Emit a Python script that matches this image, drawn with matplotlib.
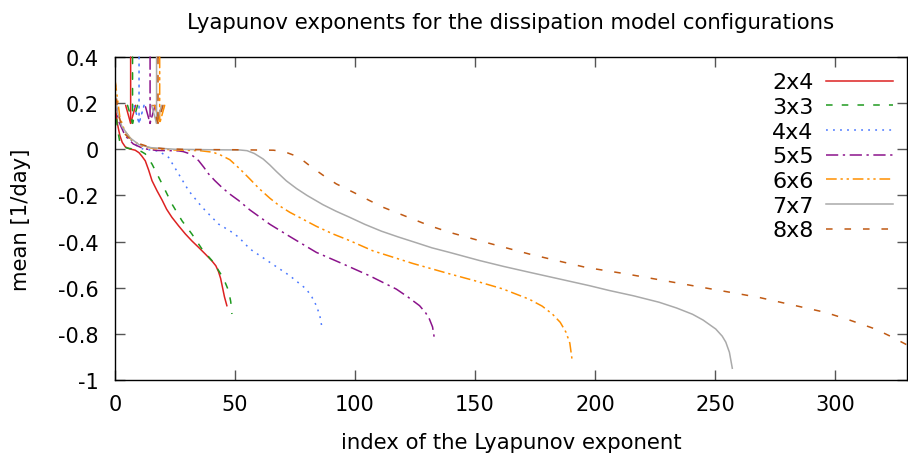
import matplotlib
matplotlib.use('Agg')
import matplotlib.pyplot as plt
from matplotlib.ticker import FormatStrFormatter

plt.rcParams['font.family'] = 'DejaVu Sans'
plt.rcParams['axes.unicode_minus'] = False

# exponents, (index, mean) per configuration
x_2x4 = [0, 1, 2, 3, 4.3, 6, 8.4, 10, 11.2, 12.6, 14, 15.4, 17.5, 19.6, 21.5, 23.7, 26.5,
         29.3, 32, 34.8, 37.5, 40.3, 42, 43.1, 44, 44.8, 45.6, 46.6]
y_2x4 = [0.19, 0.11, 0.06, 0.03, 0.01, 0.002, -0.004, -0.015, -0.03, -0.05, -0.09, -0.136,
         -0.18, -0.22, -0.26, -0.295, -0.332, -0.367, -0.397, -0.425, -0.453, -0.483,
         -0.505, -0.53, -0.56, -0.6, -0.64, -0.678]

x_3x3 = [0, 1, 2, 3, 5, 8.5, 11, 12.6, 15.4, 19.6, 23.7, 27.9, 32, 36.2, 41, 44.5, 46,
         47.3, 48.2, 48.7]
y_3x3 = [0.2, 0.09, 0.03, 0.015, 0.005, 0.0, -0.01, -0.02, -0.064, -0.15, -0.237, -0.31,
         -0.367, -0.432, -0.49, -0.548, -0.58, -0.613, -0.66, -0.714]

x_4x4 = [0, 2, 3.5, 6.2, 9, 11.8, 15, 18.2, 22.3, 26.5, 30.7, 36.2, 43.1, 47.8, 51.5, 56.2,
         64.5, 72.8, 79.7, 82, 83.9, 85.3, 86.4]
y_4x4 = [0.24, 0.13, 0.088, 0.045, 0.016, 0.0, -0.003, -0.008, -0.035, -0.107, -0.18, -0.25,
         -0.324, -0.353, -0.381, -0.432, -0.49, -0.548, -0.606, -0.64, -0.678, -0.72, -0.782]

x_5x5 = [0, 1.4, 4.2, 7.6, 11.8, 17.3, 23, 26.5, 28.4, 30.7, 32.6, 34.8, 37, 39, 41.5, 44.5,
         47.8, 51.5, 56.2, 64.5, 72.8, 83.9, 95, 106, 117.2, 122, 126.9, 129.5, 131, 132.3,
         133.1]
y_5x5 = [0.22, 0.124, 0.059, 0.023, 0.003, -0.005, -0.006, -0.007, -0.01, -0.018, -0.03,
         -0.049, -0.078, -0.107, -0.135, -0.165, -0.194, -0.222, -0.263, -0.325, -0.378,
         -0.447, -0.497, -0.548, -0.606, -0.64, -0.678, -0.71, -0.736, -0.77, -0.822]

x_6x6 = [0, 2, 4, 7, 11, 16, 25, 35.4, 40.9, 44, 47.8, 52, 56.2, 60, 64.5, 68.5, 72.8, 83.9,
         90.8, 97.8, 107.4, 124.1, 139.4, 150, 161.5, 172.6, 178, 182.3, 185.5, 187.9,
         189.5, 190.4]
y_6x6 = [0.3, 0.14, 0.08, 0.04, 0.015, 0.003, -0.003, -0.006, -0.013, -0.025, -0.045,
         -0.085, -0.129, -0.17, -0.212, -0.245, -0.273, -0.334, -0.367, -0.396, -0.44,
         -0.495, -0.54, -0.57, -0.605, -0.65, -0.68, -0.715, -0.75, -0.793, -0.84, -0.909]

x_7x7 = [0, 1, 2.8, 6.2, 10, 15, 25, 40, 52, 55, 58, 61.7, 64.5, 67.3, 71.4, 75.6, 80, 86.6,
         92, 97.8, 104, 111, 118, 125.5, 132, 139.4, 151.8, 162, 172.6, 185.1, 197.6,
         205.9, 216, 226.7, 234, 240.6, 245, 250.3, 253, 254.5, 256, 257.2]
y_7x7 = [0.25, 0.16, 0.1, 0.05, 0.02, 0.007, 0.0, -0.002, -0.003, -0.006, -0.018, -0.042,
         -0.068, -0.097, -0.137, -0.17, -0.2, -0.24, -0.268, -0.295, -0.325, -0.355, -0.38,
         -0.405, -0.427, -0.447, -0.482, -0.508, -0.533, -0.562, -0.591, -0.612, -0.635,
         -0.663, -0.688, -0.715, -0.74, -0.779, -0.81, -0.836, -0.88, -0.949]

x_8x8 = [0, 1, 3.5, 6.2, 10.4, 14.6, 20, 30, 50, 66, 69, 72, 75.6, 78.5, 81.1, 86.6, 92.2,
         100, 106, 111.6, 118.6, 131, 139.4, 151.8, 172.6, 185.1, 196.2, 212.9, 240.6,
         268.3, 296, 306, 316.8, 323, 329.3, 331]
y_8x8 = [0.3, 0.17, 0.072, 0.045, 0.023, 0.009, 0.003, -0.001, -0.002, -0.004, -0.008,
         -0.016, -0.03, -0.05, -0.071, -0.112, -0.15, -0.19, -0.222, -0.251, -0.28, -0.331,
         -0.36, -0.396, -0.454, -0.485, -0.512, -0.54, -0.591, -0.642, -0.707, -0.74,
         -0.779, -0.81, -0.844, -0.855]

labels = ['2x4', '3x3', '4x4', '5x5', '6x6', '7x7', '8x8']
# index marked by an arrow for each configuration
arrow_x = [6.5, 7.3, 10.0, 14.6, 18.6, 17.3, 17.9]
arrow_tip = 0.1

colors = ['#dd2222', '#1f9a1f', '#4a78ff', '#8b138b', '#ff9000', '#aaaaaa', '#c05a14']
dashes = [None, (4.3, 6.0), (1.2, 3.4), (8, 3, 1.5, 3), (7, 2.5, 1.5, 2.5, 1.5, 2.5),
          None, (4.3, 7.8)]

xs = [x_2x4, x_3x3, x_4x4, x_5x5, x_6x6, x_7x7, x_8x8]
ys = [y_2x4, y_3x3, y_4x4, y_5x5, y_6x6, y_7x7, y_8x8]

fig = plt.figure(figsize=(9.08, 4.56), dpi=100)
ax = fig.add_axes([0.1267, 0.1645, 0.8722, 0.7083])

for x, y, lab, c, d in zip(xs, ys, labels, colors, dashes):
    line, = ax.plot(x, y, color=c, lw=1.1, label=lab)
    if d is not None:
        line.set_dashes(d)

for ax_x, c, d in zip(arrow_x, colors, dashes):
    ls = '-' if d is None else (0, d)
    ax.annotate('', xy=(ax_x, arrow_tip), xytext=(ax_x, 0.4),
                arrowprops=dict(arrowstyle='->,head_length=1.3,head_width=0.36',
                                color=c, lw=1.1, linestyle=ls,
                                shrinkA=0, shrinkB=0, mutation_scale=10))

ax.set_xlim(0, 330)
ax.set_ylim(-1, 0.4)
ax.set_xticks([0, 50, 100, 150, 200, 250, 300])
ax.set_yticks([-1, -0.8, -0.6, -0.4, -0.2, 0, 0.2, 0.4])
ax.yaxis.set_major_formatter(FormatStrFormatter('%g'))
ax.tick_params(direction='in', length=7, width=1, color='#555555', labelsize=15,
               top=True, right=True)
ax.tick_params(axis='y', pad=12)
ax.tick_params(axis='x', pad=10)
for s in ax.spines.values():
    s.set_linewidth(1.0)

ax.set_title('Lyapunov exponents for the dissipation model configurations',
             fontsize=15.3, pad=21)
ax.set_xlabel('index of the Lyapunov exponent', fontsize=15.3, labelpad=13)
ax.set_ylabel('mean [1/day]', fontsize=15.3, labelpad=19)

leg = ax.legend(loc='upper right', frameon=False, markerfirst=False, fontsize=16,
                handlelength=3.0, handletextpad=0.55, labelspacing=0.21,
                borderaxespad=0.0, bbox_to_anchor=(0.993, 0.98))

fig.savefig('out.png', dpi=100)
